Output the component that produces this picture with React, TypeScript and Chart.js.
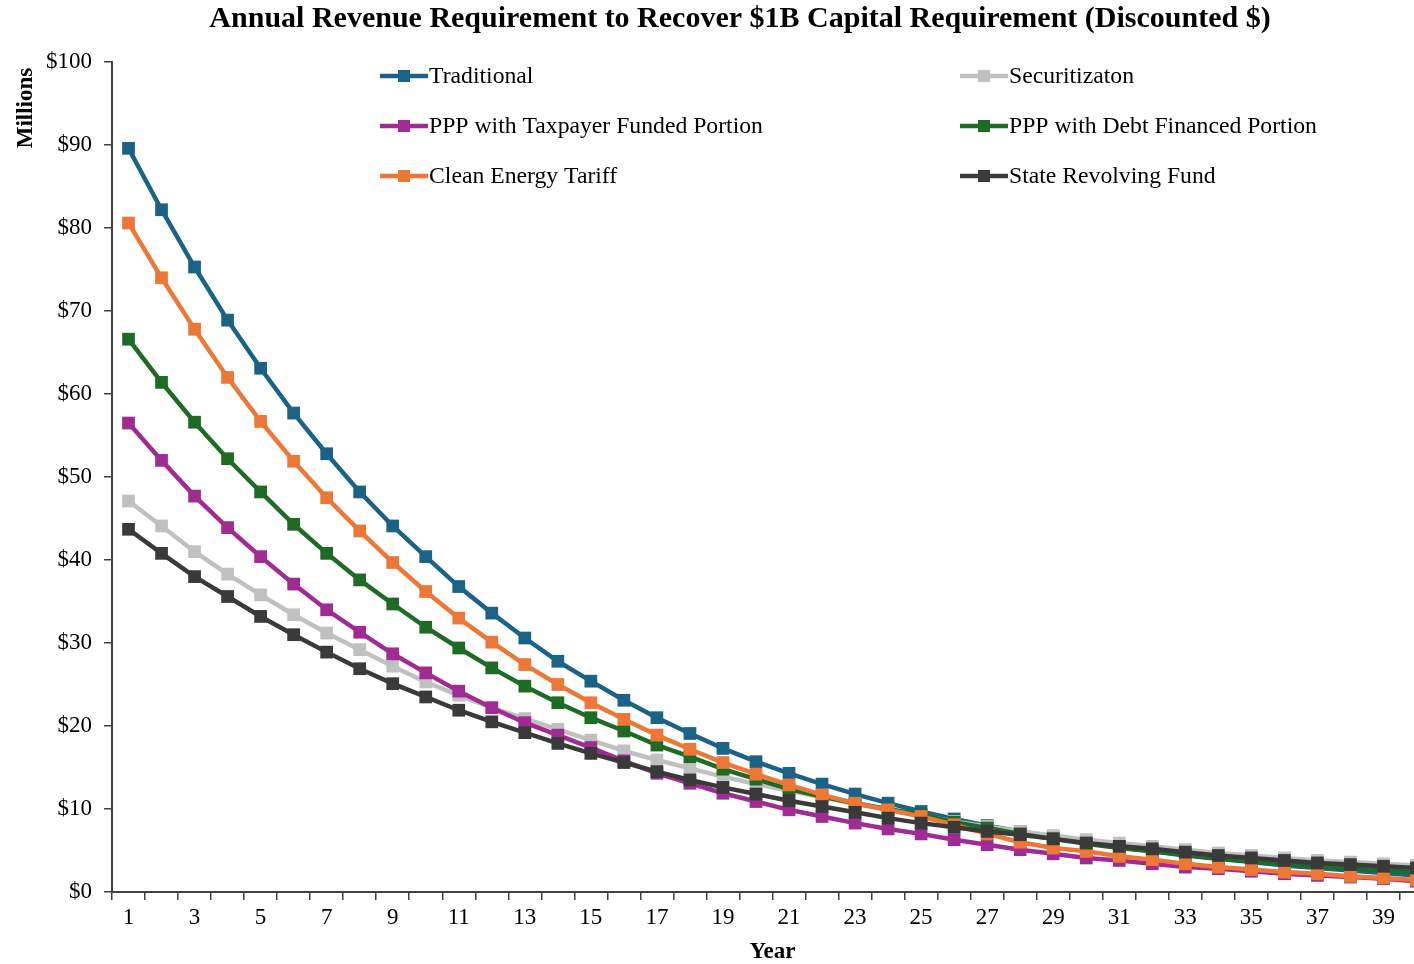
import React, { useEffect, useRef } from "react";
import { Chart, registerables } from "chart.js";

Chart.register(...registerables);

const TITLE = "Annual Revenue Requirement to Recover $1B Capital Requirement (Discounted $)";
const Y_TITLE = "Millions";
const X_TITLE = "Year";

const years = [
  "1", "2", "3", "4", "5", "6", "7", "8", "9", "10",
  "11", "12", "13", "14", "15", "16", "17", "18", "19", "20",
  "21", "22", "23", "24", "25", "26", "27", "28", "29", "30",
  "31", "32", "33", "34", "35", "36", "37", "38", "39", "40",
];

const seriesNames = [
  "Traditional",
  "Securitizaton",
  "PPP with Taxpayer Funded Portion",
  "PPP with Debt Financed Portion",
  "Clean Energy Tariff",
  "State Revolving Fund",
];

const traditional = [
  89.6, 82.2, 75.3, 68.9, 63.1, 57.7, 52.8, 48.2, 44.1, 40.4,
  36.8, 33.6, 30.6, 27.8, 25.4, 23.1, 21.0, 19.1, 17.3, 15.7,
  14.3, 13.0, 11.8, 10.7, 9.7, 8.8, 8.0, 7.3, 6.6, 6.0,
  5.4, 4.9, 4.4, 4.0, 3.6, 3.2, 2.9, 2.6, 2.3, 2.0,
];
const securitization = [
  47.1, 44.1, 41.0, 38.3, 35.8, 33.4, 31.2, 29.2, 27.2, 25.3,
  23.7, 22.2, 20.9, 19.6, 18.3, 17.0, 15.9, 14.9, 13.9, 13.0,
  12.2, 11.4, 10.6, 9.9, 9.2, 8.5, 7.9, 7.3, 6.8, 6.3,
  5.9, 5.5, 5.1, 4.7, 4.4, 4.1, 3.8, 3.6, 3.4, 3.2,
];
const pppTaxpayer = [
  56.5, 52.0, 47.7, 43.9, 40.4, 37.1, 34.0, 31.3, 28.7, 26.4,
  24.2, 22.2, 20.4, 18.9, 17.4, 15.8, 14.3, 13.1, 11.9, 10.9,
  9.9, 9.1, 8.3, 7.6, 7.0, 6.3, 5.7, 5.1, 4.6, 4.1,
  3.8, 3.4, 3.0, 2.8, 2.5, 2.2, 2.0, 1.8, 1.6, 1.3,
];
const pppDebt = [
  66.6, 61.4, 56.6, 52.2, 48.2, 44.3, 40.8, 37.6, 34.7, 31.9,
  29.4, 27.0, 24.8, 22.8, 21.0, 19.4, 17.7, 16.3, 14.8, 13.6,
  12.4, 11.5, 10.7, 10.0, 9.3, 8.4, 7.7, 7.0, 6.4, 5.8,
  5.3, 4.9, 4.5, 4.0, 3.7, 3.4, 3.1, 2.9, 2.6, 2.4,
];
const cleanEnergyTariff = [
  80.6, 74.0, 67.8, 62.0, 56.7, 51.9, 47.5, 43.5, 39.7, 36.2,
  33.0, 30.1, 27.4, 25.0, 22.8, 20.8, 18.9, 17.2, 15.6, 14.2,
  12.9, 11.7, 10.7, 9.9, 9.1, 8.1, 7.0, 6.0, 5.3, 4.9,
  4.3, 3.9, 3.4, 3.0, 2.7, 2.4, 2.2, 1.9, 1.7, 1.45,
];
const stateRevolvingFund = [
  43.7, 40.8, 38.0, 35.6, 33.2, 31.0, 28.9, 26.9, 25.1, 23.5,
  21.9, 20.5, 19.2, 17.9, 16.7, 15.6, 14.5, 13.5, 12.6, 11.8,
  11.0, 10.3, 9.6, 8.9, 8.3, 7.8, 7.3, 6.9, 6.4, 5.9,
  5.5, 5.2, 4.8, 4.4, 4.1, 3.8, 3.5, 3.3, 3.1, 2.9,
];

const seriesValues = [
  traditional,
  securitization,
  pppTaxpayer,
  pppDebt,
  cleanEnergyTariff,
  stateRevolvingFund,
];

const seriesColors = ["#1b6287", "#c0c0c0", "#a02b93", "#1d6b24", "#ed7736", "#3a3a3a"];

const FONT = '"Liberation Serif", "Times New Roman", serif';

const overlayPlugin = {
  id: "overlay",
  afterDraw(chart: any) {
    const ctx = chart.ctx;
    const area = chart.chartArea;
    ctx.save();
    ctx.fillStyle = "#000";
    // title
    ctx.font = `bold 30px ${FONT}`;
    ctx.textAlign = "center";
    ctx.textBaseline = "middle";
    ctx.fillText(TITLE, 740, 19);
    // y title
    ctx.save();
    ctx.translate(26, 108);
    ctx.rotate(-Math.PI / 2);
    ctx.font = `bold 23px ${FONT}`;
    ctx.textAlign = "center";
    ctx.textBaseline = "middle";
    ctx.fillText(Y_TITLE, 0, 0);
    ctx.restore();
    // legend
    const cols = [area.left + 268, area.left + 848];
    const rows = [76, 126, 176];
    ctx.font = `23.7px ${FONT}`;
    ctx.textAlign = "left";
    ctx.textBaseline = "middle";
    seriesNames.forEach((name, i) => {
      const x = cols[i % 2];
      const y = rows[Math.floor(i / 2)];
      ctx.strokeStyle = seriesColors[i];
      ctx.lineWidth = 4.5;
      ctx.beginPath();
      ctx.moveTo(x, y);
      ctx.lineTo(x + 48, y);
      ctx.stroke();
      ctx.fillStyle = seriesColors[i];
      ctx.fillRect(x + 24 - 6, y - 6, 12, 12);
      ctx.fillStyle = "#000";
      ctx.fillText(name, x + 49, y + 1);
    });
    ctx.restore();
  },
};

export default function App() {
  const canvasRef = useRef<HTMLCanvasElement | null>(null);

  useEffect(() => {
    const canvas = canvasRef.current;
    if (!canvas) return;
    const datasets = seriesNames.map((name, i) => ({
      label: name,
      data: seriesValues[i],
      borderColor: seriesColors[i],
      backgroundColor: seriesColors[i],
      borderWidth: 4.5,
      pointStyle: "rect",
      pointRadius: 9,
      pointBorderWidth: 0,
      tension: 0,
      order: seriesNames.length - i,
    }));
    const chart = new Chart(canvas, {
      type: "line",
      data: { labels: years, datasets },
      options: {
        responsive: false,
        animation: false,
        layout: { padding: { top: 62, left: 0, right: 0, bottom: 0 } },
        plugins: {
          legend: { display: false },
          title: { display: false },
          tooltip: { enabled: false },
        },
        scales: {
          x: {
            type: "category",
            offset: true,
            grid: {
              display: true,
              drawOnChartArea: false,
              drawTicks: true,
              tickLength: 8,
              offset: true,
              color: "#404040",
              lineWidth: 1.5,
            },
            border: { display: true, color: "#404040", width: 2 },
            ticks: {
              autoSkip: false,
              maxRotation: 0,
              minRotation: 0,
              padding: 4,
              color: "#000",
              font: { family: FONT, size: 23 },
              callback: (_v: any, idx: number) => (idx % 2 === 0 ? years[idx] : ""),
            },
            title: {
              display: true,
              text: X_TITLE,
              color: "#000",
              font: { family: FONT, size: 23, weight: "bold", lineHeight: 1 },
              padding: { top: 0, bottom: 0 },
            },
            afterFit: (scale: any) => {
              scale.height = 72;
            },
          },
          y: {
            min: 0,
            max: 100,
            grid: {
              display: true,
              drawOnChartArea: false,
              drawTicks: true,
              tickLength: 8,
              color: "#404040",
              lineWidth: 1.5,
            },
            border: { display: true, color: "#404040", width: 2 },
            ticks: {
              stepSize: 10,
              padding: 12,
              color: "#000",
              font: { family: FONT, size: 23 },
              callback: (v: any) => "$" + v,
            },
            afterFit: (scale: any) => {
              scale.width = 112;
            },
          },
        },
      },
      plugins: [overlayPlugin],
    });
    return () => chart.destroy();
  }, []);

  return (
    <div
      style={{
        position: "fixed",
        left: 0,
        top: 0,
        width: 1414,
        height: 964,
        overflow: "hidden",
        background: "#fff",
      }}
    >
      <canvas ref={canvasRef} width={1442} height={964} style={{ width: 1442, height: 964, display: "block" }} />
    </div>
  );
}
